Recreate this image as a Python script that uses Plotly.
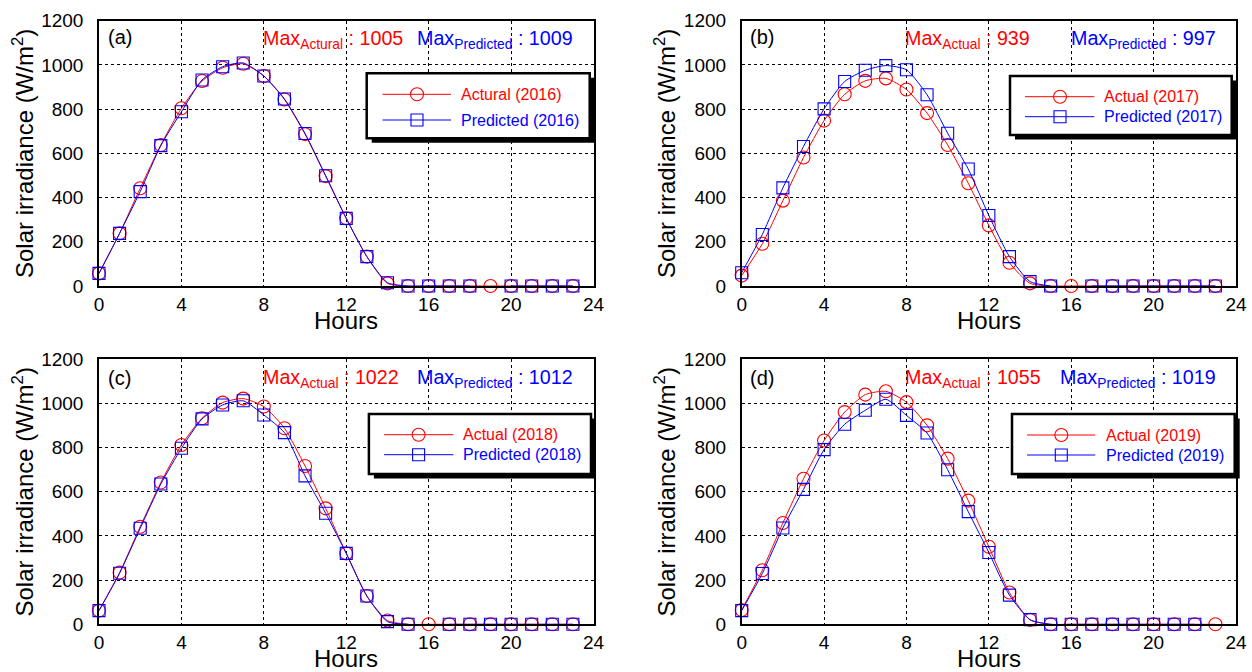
import plotly.graph_objects as go

# ---------------- data ----------------
hours = list(range(24))
x_ticks = [0, 4, 8, 12, 16, 20, 24]
y_ticks = [0, 200, 400, 600, 800, 1000, 1200]

actual_2016 = [57, 238, 442, 638, 804, 927, 987, 1005, 950, 844, 687, 497, 306, 133, 12,
               0, 0, 0, 0, 0, 0, 0, 0, 0]
predicted_2016 = [57, 238, 427, 635, 788, 932, 992, 1009, 950, 846, 690, 499, 306, 133, 15,
                  0, 0, 0, 0, None, 0, 0, 0, 0]

actual_2017 = [47, 191, 386, 581, 748, 867, 928, 939, 889, 782, 638, 465, 274, 105, 12,
               0, 0, 0, 0, 0, 0, 0, 0, 0]
predicted_2017 = [60, 233, 444, 631, 801, 925, 976, 997, 978, 865, 691, 529, 319, 133, 20,
                  0, None, 0, 0, 0, 0, 0, 0, 0]

actual_2018 = [62, 234, 442, 642, 812, 933, 1004, 1022, 986, 888, 717, 525, 321, 128, 17,
               0, 0, 0, 0, 0, 0, 0, 0, 0]
predicted_2018 = [62, 231, 435, 635, 797, 930, 993, 1012, 948, 868, 672, 503, 321, 128, 12,
                  0, None, 0, 0, 0, 0, 0, 0, 0]

actual_2019 = [65, 245, 459, 659, 832, 961, 1040, 1055, 1006, 901, 750, 560, 351, 144, 20,
               0, 0, 0, 0, 0, 0, 0, 0, 0]
predicted_2019 = [62, 230, 436, 611, 791, 906, 969, 1019, 946, 866, 700, 510, 325, 132, 21,
                  0, 0, 0, 0, 0, 0, 0, 0, None]

panel_labels = ["(a)", "(b)", "(c)", "(d)"]
actual_names = ["Actural (2016)", "Actual (2017)", "Actual (2018)", "Actual (2019)"]
predicted_names = ["Predicted (2016)", "Predicted (2017)", "Predicted (2018)", "Predicted (2019)"]
actual_sub = ["Actural", "Actual", "Actual", "Actual"]
x_title = "Hours"
y_title = "Solar irradiance (W/m<sup>2</sup>)"

# ---------------- layout helpers ----------------
W, H = 1252, 672
FONT = "Liberation Sans, Arial, sans-serif"
RED = "#ff0000"
BLUE = "#0000ff"


def px(x):
    return x / W


def py(y):
    return 1 - y / H


# geometry per panel (pixels from the top-left corner)
geo = [
    dict(x0=99, x1=593.5, y0=20.7, y1=286, lab=(106, 37.5), maxy=39.5, red_x=260.7, blue_x=575,
         box=(366.7, 73.3, 589.7, 138.3), rows=(94.3, 120), line=(382.5, 451), mk=417, tx=459),
    dict(x0=741.7, x1=1236, y0=20.7, y1=286, lab=(748.3, 37.5), maxy=39.5, red_x=903.3, blue_x=1218.3,
         box=(1010, 76, 1231.7, 135), rows=(96.7, 116.7), line=(1025, 1094.3), mk=1060, tx=1101.7),
    dict(x0=99, x1=593.5, y0=359.3, y1=624.3, lab=(106, 378), maxy=378, red_x=260.7, blue_x=575,
         box=(368.9, 414, 591, 474), rows=(434.7, 454.7), line=(384.1, 453.4), mk=418.6, tx=461.2),
    dict(x0=741.7, x1=1236, y0=359.3, y1=624.3, lab=(748.3, 378), maxy=378, red_x=903, blue_x=1218,
         box=(1012, 414, 1234.7, 474), rows=(435, 455), line=(1027, 1095.3), mk=1061.3, tx=1103.7),
]

series = [
    (actual_2016, predicted_2016),
    (actual_2017, predicted_2017),
    (actual_2018, predicted_2018),
    (actual_2019, predicted_2019),
]

fig = go.Figure()
shapes = []
annotations = []
layout_axes = {}

for i, (g, (act, pred)) in enumerate(zip(geo, series)):
    n = i + 1
    xa = "x" if n == 1 else f"x{n}"
    ya = "y" if n == 1 else f"y{n}"
    xkey = "xaxis" if n == 1 else f"xaxis{n}"
    ykey = "yaxis" if n == 1 else f"yaxis{n}"

    fig.add_trace(go.Scatter(
        x=hours, y=act, name=actual_names[i], mode="lines+markers",
        line=dict(color=RED, width=1, shape="spline", smoothing=0.6),
        marker=dict(symbol="circle-open", size=13, color=RED, line=dict(width=1.1, color=RED)),
        cliponaxis=False, showlegend=False, xaxis=xa, yaxis=ya))
    fig.add_trace(go.Scatter(
        x=hours, y=pred, name=predicted_names[i], mode="lines+markers",
        line=dict(color=BLUE, width=1, shape="spline", smoothing=0.6),
        marker=dict(symbol="square-open", size=12, color=BLUE, line=dict(width=1.1, color=BLUE)),
        cliponaxis=False, showlegend=False, xaxis=xa, yaxis=ya))

    common = dict(showline=True, linecolor="black", linewidth=1.5, mirror=True,
                  showgrid=True, gridcolor="black", gridwidth=1, griddash="3px,3px",
                  zeroline=False, ticks="", automargin=False,
                  tickfont=dict(family=FONT, size=19, color="black"))
    layout_axes[xkey] = dict(common, domain=[px(g["x0"]), px(g["x1"])], anchor=ya,
                             range=[0, 24], tickvals=x_ticks)
    layout_axes[ykey] = dict(common, domain=[py(g["y1"]), py(g["y0"])], anchor=xa,
                             range=[0, 1200], tickvals=y_ticks, ticklabelstandoff=10,
                             title=dict(text=y_title, font=dict(family=FONT, size=24, color="black"),
                                        standoff=1))

    # x-axis title
    annotations.append(dict(x=px((g["x0"] + g["x1"]) / 2), y=py(g["y1"] + 34), xref="paper", yref="paper",
                            text=x_title, showarrow=False, xanchor="center", yanchor="middle",
                            font=dict(family=FONT, size=24, color="black")))
    # panel label
    annotations.append(dict(x=px(g["lab"][0]), y=py(g["lab"][1]), xref="paper", yref="paper",
                            text=panel_labels[i], showarrow=False, xanchor="left", yanchor="middle",
                            font=dict(family=FONT, size=20, color="black")))
    # max annotations
    amax = max(v for v in act if v is not None)
    pmax = max(v for v in pred if v is not None)
    annotations.append(dict(x=px(g["red_x"]), y=py(g["maxy"]), xref="paper", yref="paper",
                            text=f"Max<sub>{actual_sub[i]}</sub> : {amax}", showarrow=False,
                            xanchor="left", yanchor="middle",
                            font=dict(family=FONT, size=19.7, color=RED)))
    annotations.append(dict(x=px(g["blue_x"]), y=py(g["maxy"]), xref="paper", yref="paper",
                            text=f"Max<sub>Predicted</sub> : {pmax}", showarrow=False,
                            xanchor="right", yanchor="middle",
                            font=dict(family=FONT, size=19.7, color=BLUE)))

    # legend box with drop shadow
    bl, bt, br, bb = g["box"]
    shapes.append(dict(type="rect", xref="paper", yref="paper",
                       x0=px(bl + 5), x1=px(br + 5), y0=py(bb + 4.5), y1=py(bt + 4.5),
                       fillcolor="black", line=dict(width=0), layer="above"))
    shapes.append(dict(type="rect", xref="paper", yref="paper",
                       x0=px(bl), x1=px(br), y0=py(bb), y1=py(bt),
                       fillcolor="white", line=dict(color="black", width=2.5), layer="above"))
    for row, col, sym, name in [(g["rows"][0], RED, "circle", actual_names[i]),
                                (g["rows"][1], BLUE, "rect", predicted_names[i])]:
        shapes.append(dict(type="line", xref="paper", yref="paper",
                           x0=px(g["line"][0]), x1=px(g["line"][1]), y0=py(row), y1=py(row),
                           line=dict(color=col, width=1), layer="above"))
        r = 6.5 if sym == "circle" else 6
        shapes.append(dict(type=sym, xref="paper", yref="paper",
                           x0=px(g["mk"] - r), x1=px(g["mk"] + r), y0=py(row + r), y1=py(row - r),
                           fillcolor="rgba(0,0,0,0)", line=dict(color=col, width=1.1), layer="above"))
        annotations.append(dict(x=px(g["tx"]), y=py(row), xref="paper", yref="paper",
                                text=name, showarrow=False, xanchor="left", yanchor="middle",
                                font=dict(family=FONT, size=16, color=col)))

fig.update_layout(
    width=W, height=H, autosize=False,
    margin=dict(l=0, r=0, t=0, b=0, pad=0),
    paper_bgcolor="white", plot_bgcolor="white",
    font=dict(family=FONT, color="black"),
    shapes=shapes, annotations=annotations,
    showlegend=False,
    **layout_axes,
)

fig.write_html(
    "out.html",
    config={"responsive": False, "displayModeBar": False},
    default_width=f"{W}px", default_height=f"{H}px",
    post_script="document.body.style.margin='0';document.body.style.padding='0';"
                "document.body.style.overflow='hidden';",
)
